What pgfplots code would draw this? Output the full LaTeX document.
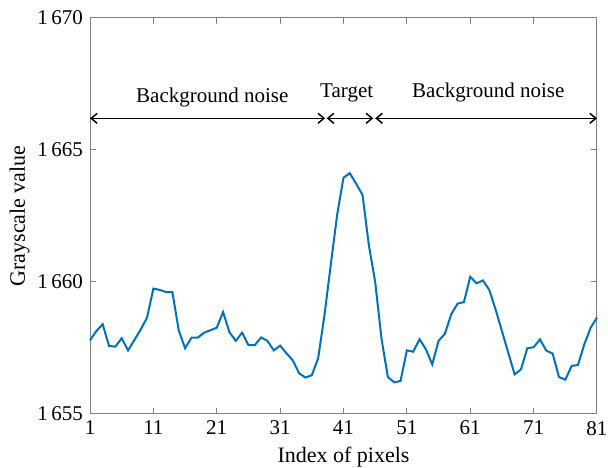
\documentclass[border=0pt]{standalone}
\usepackage{pgfplots}
\pgfplotsset{compat=1.18}
\usepackage{fontspec}
\setmainfont{Liberation Serif}
\usetikzlibrary{arrows.meta}
\definecolor{mblue}{rgb}{0,0.447,0.741}
\begin{document}
\begin{tikzpicture}
\begin{axis}[
  name=ax,
  scale only axis,
  width=253.5pt, height=198pt,
  xmin=1, xmax=81, ymin=1655, ymax=1670,
  xtick={1,11,21,31,41,51,61,71,81},
  xticklabels={1,11,21,31,41,51,61,71,81},
  ytick={1655,1660,1665,1670},
  yticklabels={1\,655,1\,660,1\,665,1\,670},
  tick align=inside,
  xtick pos=both, ytick pos=both,
  major tick length=3pt,
  axis line style={black!50, line width=0.5pt},
  tick style={black!50, line width=0.5pt},
  every tick label/.style={font=\fontsize{10.5}{12}\selectfont, black},
  label style={font=\fontsize{11}{13}\selectfont},
  xlabel={Index of pixels},
  ylabel={Grayscale value},
  xlabel style={yshift=1pt},
  ylabel style={yshift=-3pt},
  clip=false,
]
\addplot[mblue, line width=1pt] coordinates {
(1,1657.79) (2,1658.14) (3,1658.40) (4,1657.58) (5,1657.55) (6,1657.87) (7,1657.41) (8,1657.80) (9,1658.20) (10,1658.65)
(11,1659.75) (12,1659.70) (13,1659.62) (14,1659.62) (15,1658.17) (16,1657.49) (17,1657.89) (18,1657.89) (19,1658.08) (20,1658.17)
(21,1658.27) (22,1658.86) (23,1658.10) (24,1657.77) (25,1658.08) (26,1657.61) (27,1657.61) (28,1657.90) (29,1657.77) (30,1657.41)
(31,1657.59) (32,1657.30) (33,1657.03) (34,1656.54) (35,1656.38) (36,1656.47) (37,1657.11) (38,1658.75) (39,1660.67) (40,1662.55)
(41,1663.95) (42,1664.12) (43,1663.72) (44,1663.30) (45,1661.40) (46,1660.00) (47,1657.85) (48,1656.40) (49,1656.20) (50,1656.25)
(51,1657.41) (52,1657.36) (53,1657.83) (54,1657.45) (55,1656.88) (56,1657.77) (57,1658.04) (58,1658.78) (59,1659.18) (60,1659.24)
(61,1660.20) (62,1659.95) (63,1660.06) (64,1659.70) (65,1658.96) (66,1658.14) (67,1657.32) (68,1656.50) (69,1656.69) (70,1657.49)
(71,1657.53) (72,1657.83) (73,1657.40) (74,1657.29) (75,1656.40) (76,1656.30) (77,1656.82) (78,1656.86) (79,1657.64) (80,1658.27)
(81,1658.65)
};
\draw[black, line width=0.75pt, {Straight Barb[length=3pt,width=5pt]}-{Straight Barb[length=3pt,width=5pt]}] (axis cs:1,1666.2) -- (axis cs:38.1,1666.2);
\draw[black, line width=0.75pt, {Straight Barb[length=3pt,width=5pt]}-{Straight Barb[length=3pt,width=5pt]}] (axis cs:38.35,1666.2) -- (axis cs:45.7,1666.2);
\draw[black, line width=0.75pt, {Straight Barb[length=3pt,width=5pt]}-{Straight Barb[length=3pt,width=5pt]}] (axis cs:46.0,1666.2) -- (axis cs:81,1666.2);
\node[anchor=base, font=\fontsize{10.5}{12}\selectfont, inner sep=0pt] at (axis cs:20.3,1666.78) {Background noise};
\node[anchor=base, font=\fontsize{10.5}{12}\selectfont, inner sep=0pt] at (axis cs:41.5,1666.97) {Target};
\node[anchor=base, font=\fontsize{10.5}{12}\selectfont, inner sep=0pt] at (axis cs:63.85,1666.97) {Background noise};
\end{axis}
\pgfresetboundingbox
\path[use as bounding box] ([shift={(-45pt,-27pt)}]ax.south west) rectangle ([shift={(5.5pt,9pt)}]ax.north east);
\end{tikzpicture}
\end{document}
